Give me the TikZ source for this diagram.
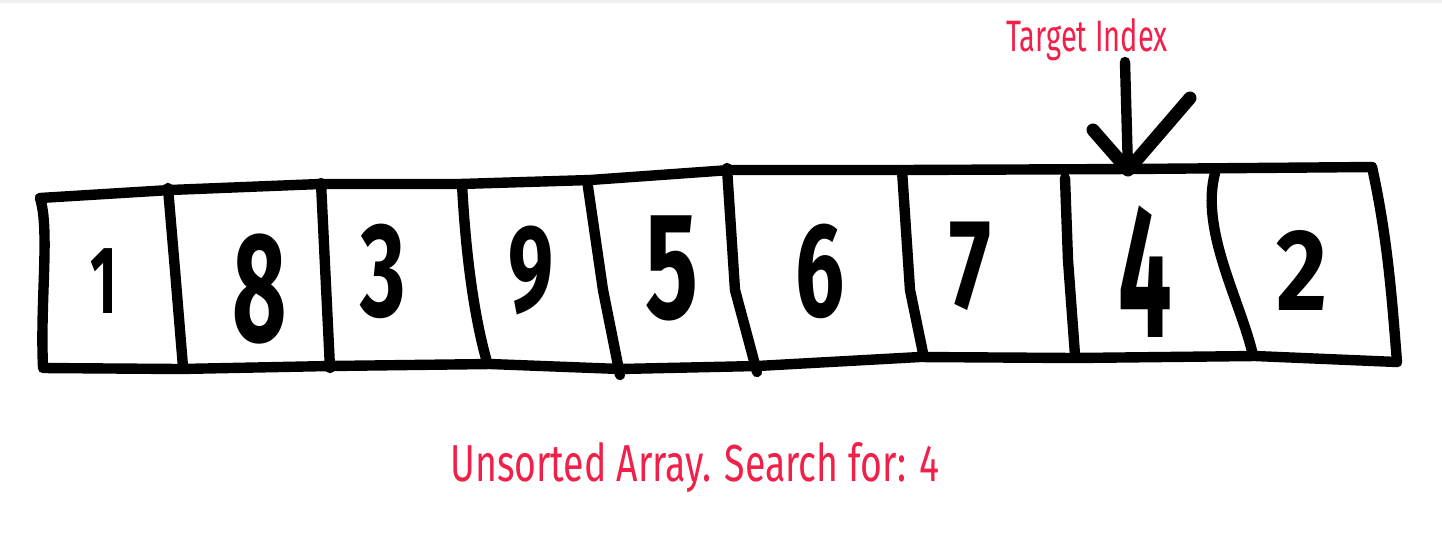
\documentclass[tikz,border=0pt]{standalone}
\usepackage{fontspec}
\setmainfont{Fira Sans}
\definecolor{lblred}{RGB}{240,32,72}
\begin{document}
\begin{tikzpicture}[x=0.5pt,y=-0.5pt,line width=5.2pt,line cap=round,line join=round,
  digit/.style={inner sep=0pt,font=\fontsize{#1}{#1}\selectfont\bfseries},
  lbl/.style={inner sep=0pt,text=lblred}]
\fill[white] (0,0) rectangle (1442,538);
\useasboundingbox (0,0) rectangle (1442,538);
\fill[black!6] (0,0) rectangle (1442,3);
% outline of the array
\draw (40,198) .. controls (50,230) and (40,300) .. (43,367);
\draw (40,198) -- (170,190) -- (320,184) -- (460,184) -- (590,180) -- (730,170) -- (900,170) -- (1130,169) -- (1372,167);
\draw (1372,167) .. controls (1388,240) and (1392,300) .. (1397,362);
\draw (43,368) -- (180,369) -- (330,366) -- (490,364) -- (620,369) -- (757,366) -- (920,357) -- (1075,358) -- (1255,356) -- (1397,362);
% dividers
\draw (168,188) -- (175,270) -- (183,367);
\draw (321,183) -- (330,368);
\draw (462,184) .. controls (466,260) and (475,320) .. (487,362);
\draw (587,180) -- (603,290) -- (620,375);
\draw (727,168) -- (735,290) -- (757,372);
\draw (902,170) -- (910,290) -- (923,353);
\draw (1065,178) -- (1068,260) -- (1075,355);
\draw (1215,173) .. controls (1200,230) and (1240,300) .. (1253,355);
% digits
\node[digit=48] (d1) at (104,281) {\scalebox{0.6}[1]{1}};
\node[digit=78] (d2) at (260,289) {\scalebox{0.6}[1]{8}};
\node[digit=67] (d3) at (383,271) {\scalebox{0.65}[1]{3}};
\node[digit=62] (d4) at (531,270) {\scalebox{0.65}[1]{9}};
\node[digit=76] (d5) at (672,268) {\scalebox{0.65}[1]{5}};
\node[digit=67] (d6) at (820,271) {\scalebox{0.65}[1]{6}};
\node[digit=64] (d7) at (970,266) {\scalebox{0.7}[1]{7}};
\node[digit=95] (d8) at (1145,272) {\scalebox{0.5}[1]{4}};
\node[digit=58] (d9) at (1302,270) {\scalebox{0.85}[1]{2}};
% arrow
\coordinate (tail) at (1125,62);
\coordinate (tip) at (1128,170);
\draw (tail) -- (tip);
\draw[line width=6.5pt] (1093,130) -- (tip) -- (1190,98);
% labels
\node[lbl,font=\fontsize{22}{22}\selectfont] (target) at (1087,40) {\scalebox{0.66}[1]{Target Index}};
\node[lbl,font=\fontsize{26}{26}\selectfont] (caption) at (695,468) {\scalebox{0.72}[1]{Unsorted Array. Search for: 4}};
\end{tikzpicture}
\end{document}
